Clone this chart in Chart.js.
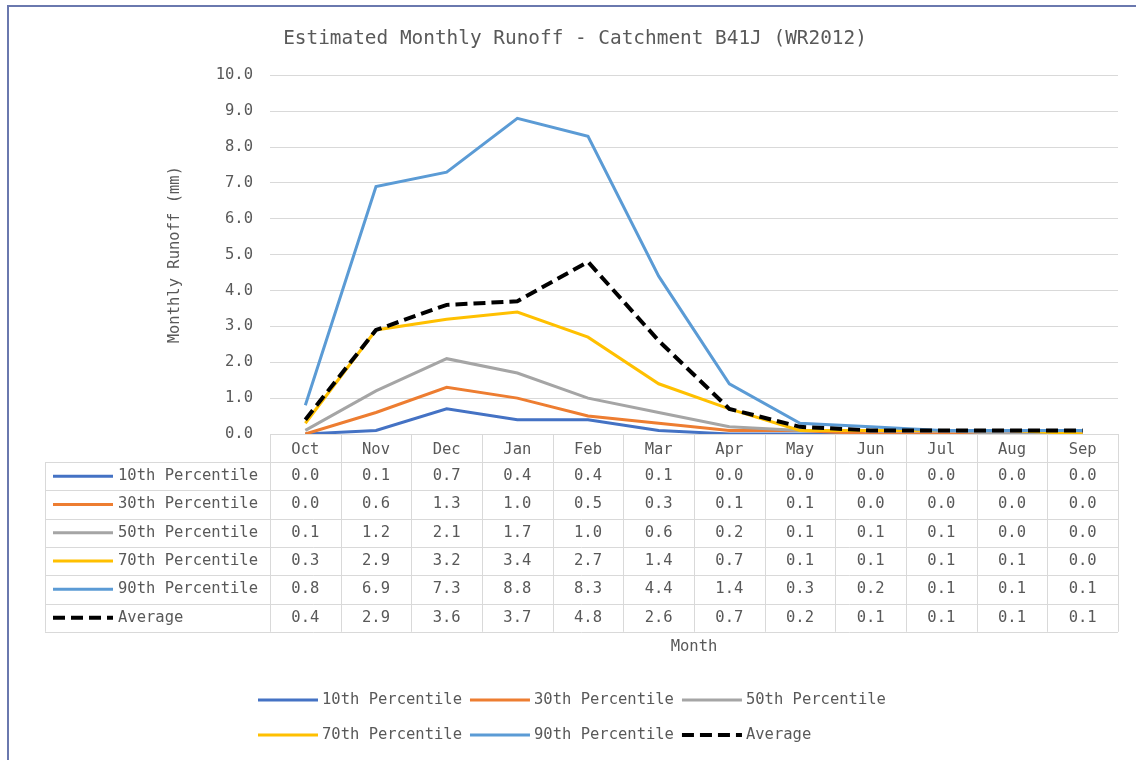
<!DOCTYPE html>
<html>
<head>
<meta charset="utf-8">
<title>Estimated Monthly Runoff - Catchment B41J (WR2012)</title>
<script src="https://cdn.jsdelivr.net/npm/chart.js@4.4.1/dist/chart.umd.min.js"></script>
<style>
  html, body { margin: 0; padding: 0; background: #fff; }
  canvas { display: block; }
</style>
</head>
<body>
<canvas id="chart" width="1136" height="760"></canvas>
<script>
// data (table values, mm)
const months = ['Oct', 'Nov', 'Dec', 'Jan', 'Feb', 'Mar', 'Apr', 'May', 'Jun', 'Jul', 'Aug', 'Sep'];
const p10 = [0.0, 0.1, 0.7, 0.4, 0.4, 0.1, 0.0, 0.0, 0.0, 0.0, 0.0, 0.0];
const p30 = [0.0, 0.6, 1.3, 1.0, 0.5, 0.3, 0.1, 0.1, 0.0, 0.0, 0.0, 0.0];
const p50 = [0.1, 1.2, 2.1, 1.7, 1.0, 0.6, 0.2, 0.1, 0.1, 0.1, 0.0, 0.0];
const p70 = [0.3, 2.9, 3.2, 3.4, 2.7, 1.4, 0.7, 0.1, 0.1, 0.1, 0.1, 0.0];
const p90 = [0.8, 6.9, 7.3, 8.8, 8.3, 4.4, 1.4, 0.3, 0.2, 0.1, 0.1, 0.1];
const average = [0.4, 2.9, 3.6, 3.7, 4.8, 2.6, 0.7, 0.2, 0.1, 0.1, 0.1, 0.1];
const seriesNames = ['10th Percentile', '30th Percentile', '50th Percentile', '70th Percentile', '90th Percentile', 'Average'];
const yTicks = [0, 1, 2, 3, 4, 5, 6, 7, 8, 9, 10];

const FONT = "'DejaVu Sans Mono', 'Liberation Mono', monospace";
const TEXT = '#595959';
const GRID = '#d9d9d9';

const line = (label, data, color, order, extra) => Object.assign({
  label: label,
  data: data,
  borderColor: color,
  backgroundColor: color,
  borderWidth: 3,
  pointRadius: 0,
  tension: 0,
  order: order,
}, extra || {});

// white page + the blue frame on top / left
const framePlugin = {
  id: 'frame',
  beforeDraw(chart) {
    const ctx = chart.ctx;
    ctx.save();
    ctx.fillStyle = '#ffffff';
    ctx.fillRect(0, 0, chart.width, chart.height);
    ctx.restore();
  },
  afterDraw(chart) {
    const ctx = chart.ctx;
    ctx.save();
    ctx.strokeStyle = '#6a78ae';
    ctx.lineWidth = 2;
    ctx.beginPath();
    ctx.moveTo(8, chart.height);
    ctx.lineTo(8, 6);
    ctx.lineTo(chart.width, 6);
    ctx.stroke();
    ctx.restore();
  }
};

// data table under the plot, Excel style
const tablePlugin = {
  id: 'dataTable',
  afterDraw(chart) {
    const { ctx, chartArea } = chart;
    const x = chart.scales.x;
    const colW = (chartArea.right - chartArea.left) / months.length;
    const top = chartArea.bottom;
    const headBottom = top + 28;
    const rowH = 28.3;
    const left = 45;
    const datasets = chart.data.datasets;
    const bottom = headBottom + rowH * datasets.length;

    ctx.save();
    ctx.strokeStyle = GRID;
    ctx.lineWidth = 1;
    ctx.beginPath();
    // horizontal rules
    for (let r = 0; r <= datasets.length; r++) {
      const y = Math.round(headBottom + r * rowH) + 0.5;
      ctx.moveTo(left, y);
      ctx.lineTo(chartArea.right, y);
    }
    // vertical rules
    ctx.moveTo(left + 0.5, headBottom);
    ctx.lineTo(left + 0.5, bottom);
    for (let c = 0; c <= months.length; c++) {
      const xx = Math.round(chartArea.left + c * colW) + 0.5;
      ctx.moveTo(xx, top);
      ctx.lineTo(xx, bottom);
    }
    ctx.stroke();

    ctx.font = '15.5px ' + FONT;
    ctx.fillStyle = TEXT;
    ctx.textBaseline = 'middle';
    datasets.forEach((ds, r) => {
      const yc = headBottom + r * rowH + rowH / 2;
      // legend key
      ctx.save();
      ctx.strokeStyle = ds.borderColor;
      ctx.lineWidth = ds.borderWidth;
      ctx.setLineDash(ds.borderDash || []);
      ctx.beginPath();
      ctx.moveTo(53, yc);
      ctx.lineTo(113, yc);
      ctx.stroke();
      ctx.restore();
      ctx.textAlign = 'left';
      ctx.fillText(ds.label, 118, yc);
      ctx.textAlign = 'center';
      ds.data.forEach((v, i) => {
        ctx.fillText(v.toFixed(1), x.getPixelForValue(i), yc);
      });
    });
    ctx.restore();
  }
};

// legend below the table, 3 per row
const legendPlugin = {
  id: 'bottomLegend',
  afterDraw(chart) {
    const ctx = chart.ctx;
    const datasets = chart.data.datasets;
    ctx.save();
    ctx.font = '15.5px ' + FONT;
    ctx.fillStyle = TEXT;
    ctx.textBaseline = 'middle';
    ctx.textAlign = 'left';
    const keyLen = 60;
    const textW = ctx.measureText(seriesNames[0]).width;
    const itemW = keyLen + 4 + textW + 8;
    const startX = 258;
    const rowsY = [700, 735];
    datasets.forEach((ds, i) => {
      const col = i % 3;
      const row = Math.floor(i / 3);
      const x0 = startX + col * itemW;
      const y = rowsY[row];
      ctx.save();
      ctx.strokeStyle = ds.borderColor;
      ctx.lineWidth = ds.borderWidth;
      ctx.setLineDash(ds.borderDash || []);
      ctx.beginPath();
      ctx.moveTo(x0, y);
      ctx.lineTo(x0 + keyLen, y);
      ctx.stroke();
      ctx.restore();
      ctx.fillText(ds.label, x0 + keyLen + 4, y);
    });
    ctx.restore();
  }
};

new Chart(document.getElementById('chart'), {
  type: 'line',
  data: {
    labels: months,
    datasets: [
      line(seriesNames[0], p10, '#4472c4', 5),
      line(seriesNames[1], p30, '#ed7d31', 4),
      line(seriesNames[2], p50, '#a5a5a5', 3),
      line(seriesNames[3], p70, '#ffc000', 2),
      line(seriesNames[4], p90, '#5b9bd5', 1),
      line(seriesNames[5], average, '#000000', 0, { borderWidth: 4, borderDash: [12, 6] }),
    ]
  },
  options: {
    responsive: false,
    animation: false,
    layout: { padding: { top: 0, left: 32, right: 18, bottom: 100 } },
    plugins: {
      legend: { display: false },
      tooltip: { enabled: false },
      title: {
        display: true,
        text: 'Estimated Monthly Runoff - Catchment B41J (WR2012)',
        color: TEXT,
        font: { family: FONT, size: 19.4, weight: 'normal' },
        padding: { top: 27, bottom: 25 }
      }
    },
    scales: {
      x: {
        offset: true,
        grid: { display: false },
        border: { display: false },
        ticks: {
          color: TEXT,
          font: { family: FONT, size: 15.5 },
          padding: -1,
          maxRotation: 0,
          autoSkip: false
        },
        title: {
          display: true,
          text: 'Month',
          color: TEXT,
          font: { family: FONT, size: 15.5 },
          padding: { top: 0, bottom: 4 }
        },
        afterFit: (scale) => { scale.height = 226; }
      },
      y: {
        min: 0,
        max: 10,
        grid: { color: GRID, lineWidth: 1, drawTicks: false },
        border: { display: false },
        afterBuildTicks: (scale) => { scale.ticks = yTicks.map(v => ({ value: v })); },
        ticks: {
          color: TEXT,
          font: { family: FONT, size: 15.5 },
          padding: 17,
          callback: (v) => Number(v).toFixed(1)
        },
        title: {
          display: true,
          text: 'Monthly Runoff (mm)',
          color: TEXT,
          font: { family: FONT, size: 15.5 },
          padding: { top: 134, bottom: 0 }
        },
        afterFit: (scale) => { scale.width = 238; }
      }
    }
  },
  plugins: [framePlugin, tablePlugin, legendPlugin]
});
</script>
</body>
</html>
